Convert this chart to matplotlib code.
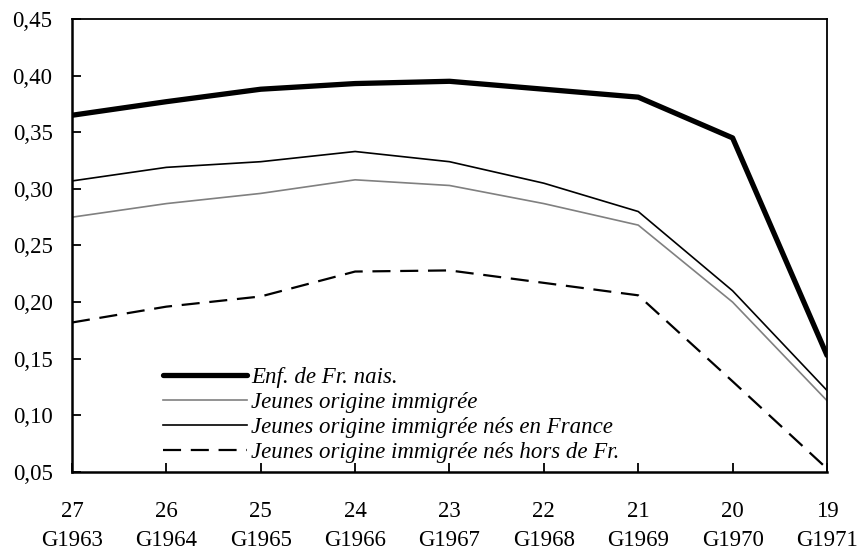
import matplotlib
matplotlib.use("Agg")
import matplotlib.pyplot as plt
from matplotlib.ticker import FuncFormatter, MultipleLocator

# ----------------------------
# Data
# ----------------------------
ages = ["27", "26", "25", "24", "23", "22", "21", "20", "19"]
generations = ["G1963", "G1964", "G1965", "G1966", "G1967",
               "G1968", "G1969", "G1970", "G1971"]

enf_fr = [0.365, 0.377, 0.388, 0.393, 0.395, 0.388, 0.381, 0.345, 0.153]
orig_immig = [0.275, 0.287, 0.296, 0.308, 0.303, 0.287, 0.268, 0.200, 0.113]
orig_immig_fr = [0.307, 0.319, 0.324, 0.333, 0.324, 0.305, 0.280, 0.210, 0.122]
orig_immig_hors = [0.182, 0.196, 0.205, 0.227, 0.228, 0.217, 0.206, 0.130, 0.053]

labels = [
    "Enf. de Fr. nais.",
    "Jeunes origine immigrée",
    "Jeunes origine immigrée nés en France",
    "Jeunes origine immigrée nés hors de Fr.",
]

plt.rcParams["font.family"] = ["Liberation Serif", "DejaVu Serif"]
plt.rcParams["lines.scale_dashes"] = False

fig = plt.figure(figsize=(8.61, 5.51), dpi=100)
ax = fig.add_axes([0.0836, 0.1434, 0.8769, 0.8221])

x = list(range(len(ages)))
ax.plot(x, enf_fr, color="black", lw=3.8, solid_capstyle="round", label=labels[0])
ax.plot(x, orig_immig, color="#808080", lw=1.2, label=labels[1])
ax.plot(x, orig_immig_fr, color="black", lw=1.2, label=labels[2])
ax.plot(x, orig_immig_hors, color="black", lw=1.6, dashes=(13, 7), label=labels[3])

ax.set_xlim(0, len(ages) - 1)
ax.set_ylim(0.05, 0.45)
ax.yaxis.set_major_locator(MultipleLocator(0.05))
ax.yaxis.set_major_formatter(FuncFormatter(lambda v, p: f"{v:.2f}".replace(".", ",")))
ax.set_xticks(x)
ax.set_xticklabels([f"{a}\n{g}" for a, g in zip(ages, generations)], linespacing=1.5)

ax.tick_params(axis="both", direction="in", length=6.3, width=1.3,
               labelsize=16.5, colors="black")
ax.tick_params(axis="x", pad=21)
ax.tick_params(axis="y", pad=14)

for s in ["left", "bottom"]:
    ax.spines[s].set_linewidth(1.8)
for s in ["top", "right"]:
    ax.spines[s].set_linewidth(1.3)

leg = ax.legend(loc="upper left", bbox_to_anchor=(0.12, 0.232), frameon=False,
                prop={"style": "italic", "size": 16.5}, handlelength=3.7,
                handletextpad=0.18, labelspacing=0.17, borderpad=0,
                borderaxespad=0)

fig.savefig("out.png", dpi=100)
